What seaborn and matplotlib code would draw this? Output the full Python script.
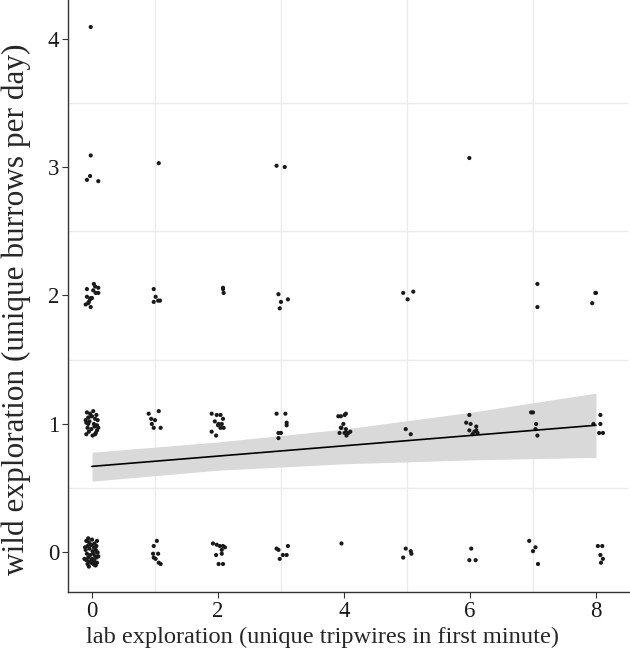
import numpy as np
import pandas as pd
import matplotlib
matplotlib.use("Agg")
import matplotlib.pyplot as plt
from matplotlib.ticker import MultipleLocator
import seaborn as sns

# jittered points (lab tripwires, wild burrows)
lab_jit = [
    # y = 4 / 3
    -0.02, -0.02, -0.03, -0.08, 0.10, 1.06, 2.93, 3.06, 5.99,
    # y = 2
    -0.08, 0.03, 0.05, 0.10, 0.02, 0.06, 0.10, -0.08, -0.02, 0.00, -0.03, -0.05, -0.10, -0.06, -0.02,
    0.98, 1.01, 0.98, 1.05, 1.08, 2.08, 2.08, 2.09, 2.96, 3.00, 2.98, 3.11,
    4.94, 5.01, 5.10, 7.07, 7.07, 8.00, 7.99, 7.94,
    # y = 1
    -0.08, -0.03, 0.02, 0.07, -0.06, 0.00, 0.05, 0.09, -0.09, -0.04, 0.03, 0.08, -0.07, -0.01, 0.04,
    -0.05, 0.06, -0.09, 0.01, 0.08, -0.10, 0.10, -0.02, 0.05, -0.06,
    0.90, 1.06, 0.94, 1.00, 0.95, 0.98, 1.09,
    1.90, 1.98, 2.04, 1.95, 2.01, 2.08, 2.06, 2.00, 2.04, 2.09, 1.90, 1.97,
    2.93, 3.07, 3.09, 3.09, 2.96, 3.00, 2.96,
    3.91, 3.95, 4.01, 4.03, 3.99, 3.95, 3.96, 4.03, 3.93, 4.01, 4.04, 4.07, 4.10, 4.04,
    4.98, 5.06,
    5.99, 5.94, 6.01, 6.10, 5.99, 6.07, 6.10, 6.12, 6.04,
    6.97, 7.00, 7.05, 7.04, 7.07,
    8.07, 7.96, 8.07, 8.05, 8.11,
    # y = 0
    -0.09, -0.05, 0.00, 0.04, 0.08, -0.07, -0.02, 0.03, 0.07, -0.10, -0.04, 0.01, 0.06, 0.09, -0.08,
    -0.03, 0.02, 0.05, -0.06, 0.00, 0.07, -0.09, -0.04, 0.03, 0.08, -0.07, -0.01, 0.05, -0.05, 0.02,
    -0.11, 0.10, -0.06, 0.04, -0.01, 0.08, -0.12, 0.06,
    1.03, 0.98, 0.97, 1.05, 0.98, 1.01, 1.06, 1.09,
    1.92, 1.98, 2.03, 2.08, 2.11, 2.06, 2.06, 1.97, 2.01, 2.08,
    2.93, 2.96, 3.11, 3.03, 3.09, 2.98,
    3.96,
    4.98, 5.06, 5.07, 4.94,
    6.02, 5.99, 6.09,
    6.94, 7.04, 7.00, 7.08,
    8.03, 8.10, 8.07, 8.11, 8.08,
]
wild_jit = [
    4.09, 3.09, 2.93, 2.90, 2.89, 3.03, 3.01, 3.00, 3.07,
    2.05, 2.09, 2.07, 2.06, 2.04, 2.02, 2.02, 1.99, 1.98, 1.98, 1.97, 1.95, 1.93, 1.94, 1.91,
    2.05, 1.99, 1.95, 1.96, 1.96, 2.06, 2.05, 2.02, 2.01, 1.95, 1.90, 1.97,
    2.02, 1.97, 2.03, 2.09, 1.91, 2.02, 2.02, 1.94,
    1.09, 1.08, 1.10, 1.07, 1.05, 1.06, 1.04, 1.03, 1.01, 1.02, 1.00, 0.99, 0.97, 0.96, 0.98,
    0.94, 0.93, 0.92, 0.91, 0.95, 1.03, 0.97, 1.06, 0.92, 1.00,
    1.08, 1.10, 1.04, 1.03, 1.00, 0.97, 0.97,
    1.08, 1.07, 1.07, 1.02, 1.00, 1.04, 1.00, 0.99, 0.97, 0.97, 0.94, 0.91,
    1.08, 1.08, 1.01, 0.99, 0.93, 0.93, 0.89,
    1.06, 1.06, 1.07, 1.08, 1.00, 0.97, 0.97, 0.96, 0.93, 0.93, 0.91, 0.93, 0.94, 0.93,
    0.96, 0.92,
    1.07, 1.01, 1.00, 0.98, 0.95, 0.94, 0.95, 0.93, 0.92,
    1.09, 1.09, 1.00, 0.96, 0.91,
    1.07, 1.00, 1.00, 0.93, 0.93,
    0.09, 0.08, 0.10, 0.07, 0.09, 0.05, 0.06, 0.04, 0.05, 0.02, 0.03, 0.01, 0.02, 0.00, -0.01,
    -0.02, -0.01, -0.03, -0.04, -0.05, -0.04, -0.06, -0.07, -0.06, -0.08, -0.09, -0.08, -0.10, -0.11, -0.09,
    0.04, -0.03, 0.11, -0.07, 0.06, 0.00, -0.05, -0.10,
    0.09, 0.05, -0.01, -0.01, -0.04, -0.05, -0.08, -0.09,
    0.07, 0.06, 0.05, 0.05, 0.04, 0.02, -0.01, -0.02, -0.09, -0.09,
    0.03, 0.02, 0.05, -0.02, -0.02, -0.05,
    0.07,
    0.03, 0.01, -0.01, -0.04,
    0.03, -0.06, -0.06,
    0.09, 0.04, 0.01, -0.09,
    0.05, 0.05, -0.02, -0.05, -0.08,
]

# fitted line and 95% band
fit_x = [0, 2, 4, 6, 8]
fit_y = [0.67, 0.75, 0.83, 0.91, 0.99]
fit_lo = [0.555, 0.64, 0.69, 0.72, 0.74]
fit_hi = [0.78, 0.86, 0.96, 1.09, 1.24]

df = pd.DataFrame({"lab": lab_jit, "wild": wild_jit})
fit = pd.DataFrame({"x": fit_x, "y": fit_y, "lo": fit_lo, "hi": fit_hi})

sns.set_style("white")
plt.rcParams["font.family"] = ["Liberation Serif", "DejaVu Serif"]

fig, ax = plt.subplots(figsize=(6.3, 6.53), dpi=100)
fig.subplots_adjust(left=0.108, right=0.999, bottom=0.093, top=1.0)

ax.fill_between(fit["x"], fit["lo"], fit["hi"], color="#d9d9d9", lw=0, zorder=1)
sns.scatterplot(data=df, x="lab", y="wild", ax=ax, color="#1a1a1a", s=9,
                edgecolor="none", zorder=3)
sns.lineplot(data=fit, x="x", y="y", ax=ax, color="black", lw=1.2, zorder=4)

ax.set_xlim(-0.38, 8.53)
ax.set_ylim(-0.31, 4.3)
ax.xaxis.set_major_locator(MultipleLocator(2))
ax.yaxis.set_major_locator(MultipleLocator(1))
# grid only between major ticks
ax.set_xticks([1, 3, 5, 7], minor=True)
ax.set_yticks([0.5, 1.5, 2.5, 3.5], minor=True)
ax.grid(which="minor", color="#ebebeb", lw=1.0, zorder=0)
ax.grid(which="major", visible=False)
ax.tick_params(which="minor", length=0)
ax.tick_params(which="major", length=4, width=0.8, color="#333333", pad=2.5,
               labelsize=16.5, labelcolor="#1a1a1a", direction="out")
ax.tick_params(axis="both", which="both", bottom=True, left=True)

for side in ["top", "right"]:
    ax.spines[side].set_visible(False)
for side in ["left", "bottom"]:
    ax.spines[side].set_color("#333333")
    ax.spines[side].set_linewidth(1.0)

ax.set_xlabel("lab exploration (unique tripwires in first minute)", fontsize=17.6)
ax.set_ylabel("wild exploration (unique burrows per day)", fontsize=22.5)
ax.xaxis.set_label_coords(0.453, -0.059)
ax.yaxis.set_label_coords(-0.066, 0.478)
ax.set_axisbelow(True)

fig.savefig("out.png", dpi=100)
